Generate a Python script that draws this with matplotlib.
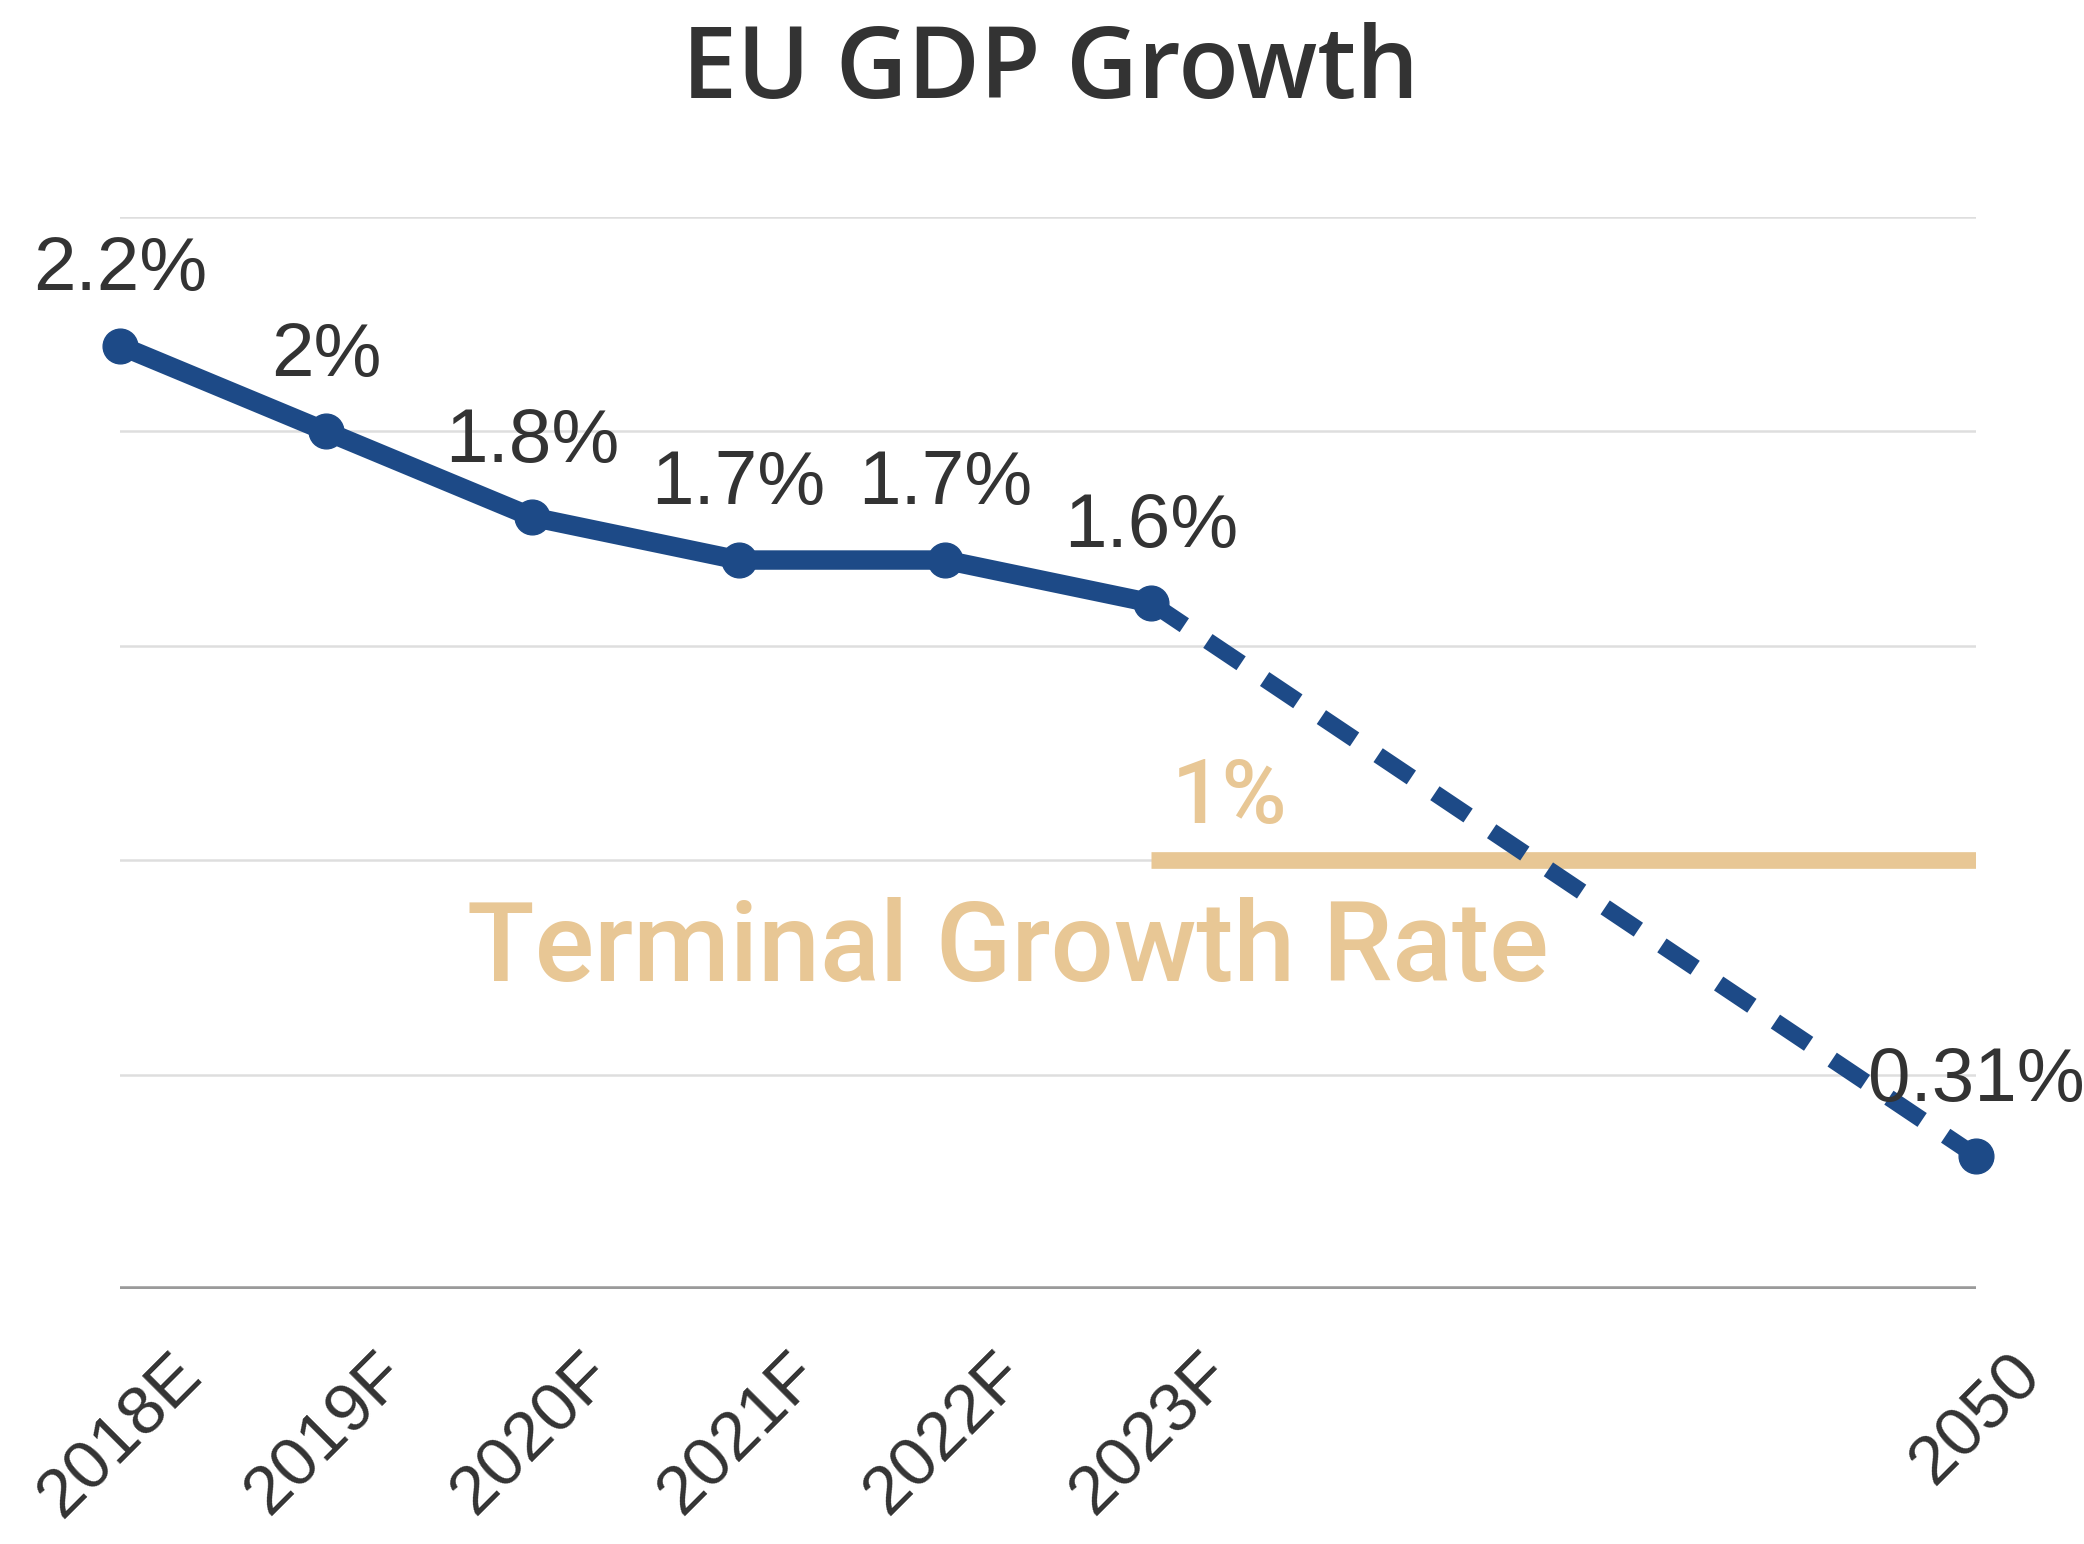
import numpy as np
import matplotlib
matplotlib.use("Agg")
import matplotlib.pyplot as plt

# series
categories = ["2018E", "2019F", "2020F", "2021F", "2022F", "2023F", "", "", "", "2050"]
growth = [2.2, 2.0, 1.8, 1.7, 1.7, 1.6, np.nan, np.nan, np.nan, 0.31]
terminal_rate = 1.0
terminal_from = "2023F"
gridlines = [0.5, 1.0, 1.5, 2.0, 2.5]

blue = "#1d4a87"
tan = "#e8c795"
ink = "#333333"

fig = plt.figure(figsize=(20.84, 15.44), dpi=100)
ax = fig.add_axes([120 / 2084, 1 - 1289 / 1544, 1856 / 2084, 1072 / 1544])

x = np.arange(len(categories))
y = np.array(growth)
known = ~np.isnan(y)
xk, yk = x[known], y[known]

# light horizontal grid + darker baseline
for g in gridlines:
    ax.axhline(g, color="#dedede", lw=1.8, zorder=0)
ax.axhline(0, color="#9a9a9a", lw=4, zorder=1)

# terminal growth rate bar
t0 = categories.index(terminal_from)
ax.plot([t0, x[-1]], [terminal_rate, terminal_rate], color=tan, lw=12,
        solid_capstyle="butt", zorder=2)

# forecast line (solid) and long-run extrapolation (dashed)
ax.plot(xk[:-1], yk[:-1], color=blue, lw=14, solid_joinstyle="round",
        solid_capstyle="round", zorder=3, clip_on=False)
ax.plot(xk[-2:], yk[-2:], color=blue, lw=12, linestyle=(0, (2.4, 1.7)),
        dash_capstyle="butt", zorder=3, clip_on=False)
ax.plot(xk, yk, "o", color=blue, ms=25, zorder=4, clip_on=False)

for xi, yi in zip(xk, yk):
    ax.annotate(f"{yi:g}%", (xi, yi), xytext=(0, 40), textcoords="offset points",
                ha="center", va="baseline", fontsize=55, color=ink,
                family="Liberation Sans", zorder=5, annotation_clip=False)

# terminal rate labels
ax.annotate(f"{terminal_rate:g}%", (t0 + 0.38, terminal_rate), xytext=(0, 27),
            textcoords="offset points", ha="center", va="baseline",
            fontsize=64, color=tan, family="Roboto", weight="medium")
fig.text(1008 / 2084, 1 - 950 / 1544, "Terminal Growth Rate", ha="center", va="center",
         fontsize=80, color=tan, family="Roboto", weight="medium")

ax.set_xlim(0, len(categories) - 1)
ax.set_ylim(0, 2.5)
ax.set_xticks(x)
ax.set_xticklabels(categories, rotation=45, ha="center", va="top",
                   fontsize=50, color=ink, family="Liberation Sans")
ax.tick_params(axis="x", length=0, pad=38)
ax.set_yticks([])
for s in ax.spines.values():
    s.set_visible(False)

fig.text(1050 / 2084, 1 - 72 / 1544, "EU GDP Growth", ha="center", va="center",
         fontsize=71, color=ink, family="Open Sans", weight="semibold")

fig.savefig("out.png", dpi=100, facecolor="white")
